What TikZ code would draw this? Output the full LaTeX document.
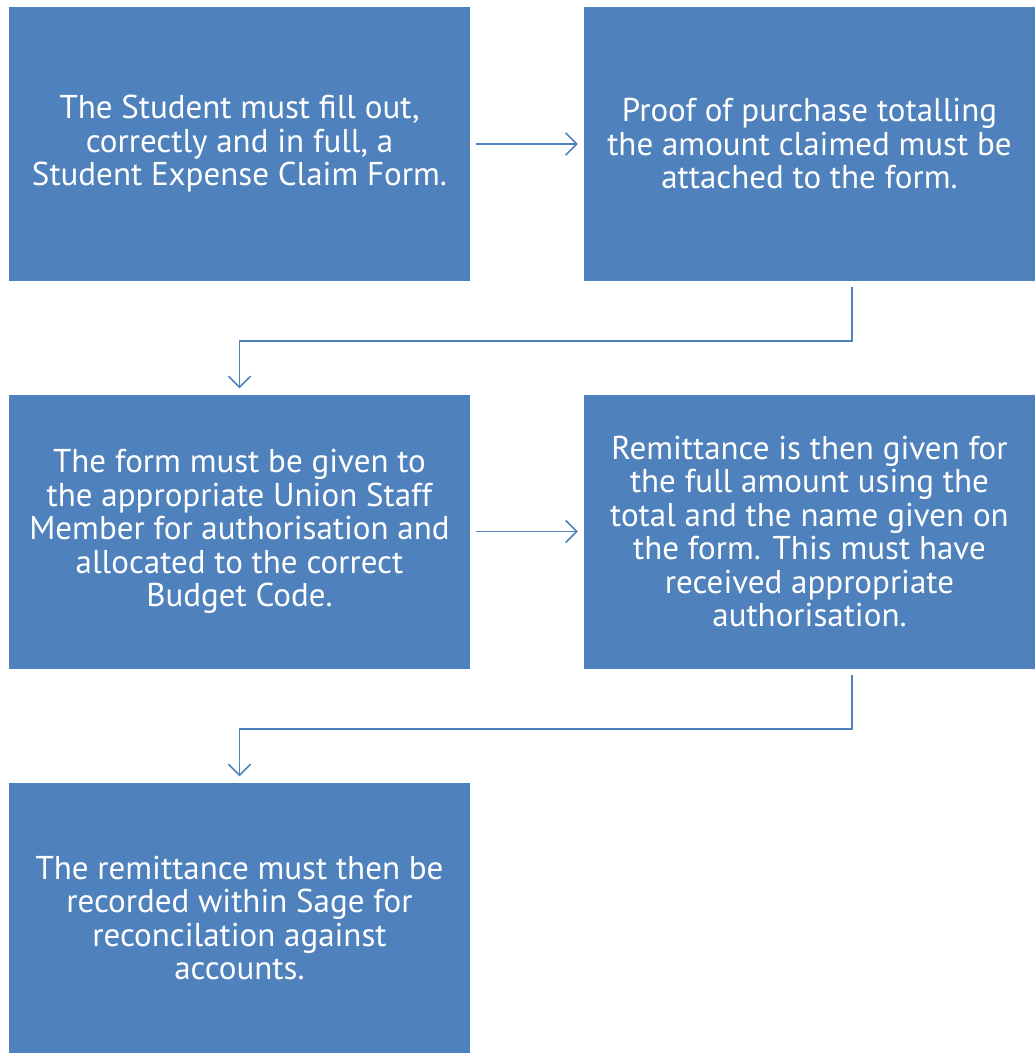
\documentclass[tikz,border=0pt]{standalone}
\usepackage{fontspec}
\setmainfont{PT Sans}
\usetikzlibrary{arrows.meta,calc}
\definecolor{boxblue}{HTML}{4F81BD}
\begin{document}
\begin{tikzpicture}[x=1pt,y=-1pt,
  box/.style={fill=boxblue,draw=none,minimum width=461pt,minimum height=274pt,inner sep=0pt,
    text=white,align=center,font=\fontsize{33}{33.5}\selectfont},
  box2/.style={box,minimum width=451pt},
  conn/.style={draw=boxblue,line width=1.6pt,-{Straight Barb[length=11pt,width=22pt,line width=1.6pt]}}]
\useasboundingbox (0,0) rectangle (1035,1053);
\node[box] (b1) at (239.5,144) {The Student must fill out,\\correctly and in full, a\\Student Expense Claim Form.};
\node[box2] (b2) at (809.5,144) {Proof of purchase totalling\\the amount claimed must be\\attached to the form.};
\node[box] (b3) at (239.5,531.5) {The form must be given to\\the appropriate Union Staff\\Member for authorisation and\\allocated to the correct\\Budget Code.};
\node[box2] (b4) at (809.5,531.5) {Remittance is then given for\\the full amount using the\\total and the name given on\\the form. This must have\\received appropriate\\authorisation.};
\node[box,minimum height=271pt] (b5) at (239.5,918) {The remittance must then be\\recorded within Sage for\\reconcilation against\\accounts.};
\coordinate (c1) at (852,287);
\coordinate (c2) at (852,675);
\draw[conn] ([xshift=6pt]b1.east) -- ([xshift=-6pt]b2.west);
\draw[conn] ([xshift=6pt]b3.east) -- ([xshift=-6pt]b4.west);
\draw[conn] (c1) -- (852,341) -| ([yshift=6pt]b3.north);
\draw[conn] (c2) -- (852,729) -| ([yshift=6pt]b5.north);
\end{tikzpicture}
\end{document}
